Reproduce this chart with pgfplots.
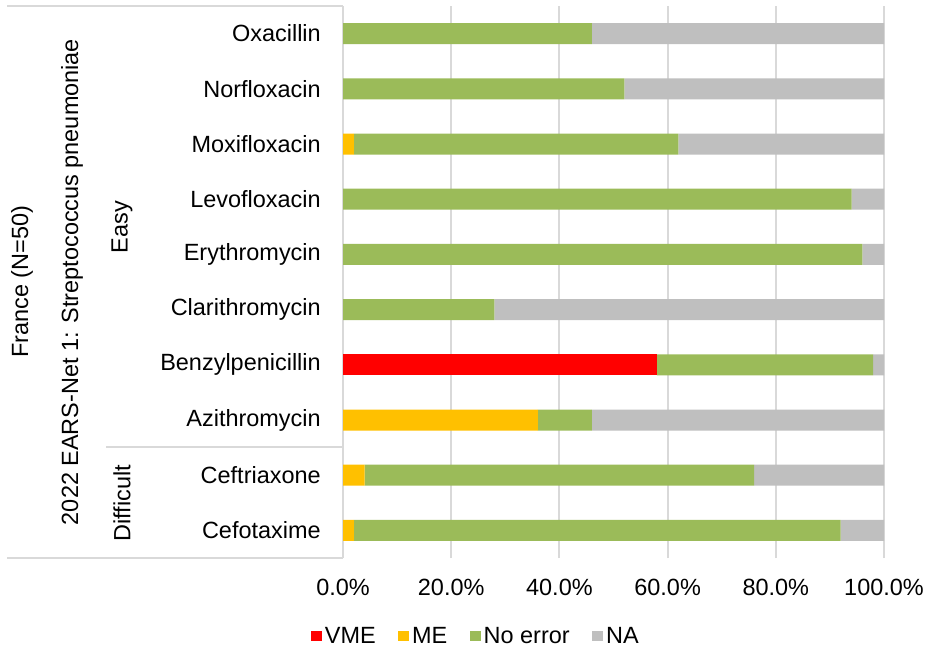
\documentclass[border=0pt]{standalone}
\usepackage{fontspec}
\setmainfont{Liberation Sans}
\usepackage{pgfplots}
\usepackage{pgfplotstable}
\pgfplotsset{compat=1.18}
\definecolor{cVME}{HTML}{FF0000}
\definecolor{cME}{HTML}{FFC000}
\definecolor{cOK}{HTML}{9BBB59}
\definecolor{cNA}{HTML}{BFBFBF}
\definecolor{cGrid}{HTML}{D9D9D9}
\pgfplotstableread{
y vme me ok na
0 0 2 90 8
1 0 4 72 24
2 0 36 10 54
3 58 0 40 2
4 0 0 28 72
5 0 0 96 4
6 0 0 94 6
7 0 2 60 38
8 0 0 52 48
9 0 0 46 54
}\data
\newcommand{\fs}{\fontsize{17.6pt}{21pt}\selectfont}
\begin{document}
\begin{tikzpicture}[x=0.75pt,y=-0.75pt]
\useasboundingbox (0,0) rectangle (930,654);
\begin{axis}[
  at={(257.25pt,-418.5pt)}, anchor=south west,
  scale only axis, width=405.75pt, height=414pt,
  xbar stacked, bar width=15.75pt,
  xmin=0, xmax=100, ymin=-0.5, ymax=9.5,
  ytick={0,...,9},
  yticklabels={Cefotaxime,Ceftriaxone,Azithromycin,Benzylpenicillin,Clarithromycin,Erythromycin,Levofloxacin,Moxifloxacin,Norfloxacin,Oxacillin},
  xtick={0,20,...,100},
  xticklabels={0.0\%,20.0\%,40.0\%,60.0\%,80.0\%,100.0\%},
  xmajorgrids, grid style={draw=cGrid, line width=1.5pt},
  axis line style={draw=none}, tick style={draw=none},
  yticklabel style={font=\fs, anchor=east, inner sep=0pt, xshift=-16.5pt},
  xticklabel style={font=\fs, anchor=north, inner sep=0pt, yshift=-15.5pt},
  legend style={at={(-0.0591,-0.1413)}, anchor=west, legend columns=-1, draw=none, inner sep=0pt, font=\fs,
    /tikz/every even column/.append style={column sep=15pt}},
  legend image code/.code={\fill[#1] (0pt,-4.1pt) rectangle (8.25pt,4.1pt);},
  every axis plot/.append style={draw=none},
]
\addplot[fill=cVME] table[x=vme,y=y]{\data};
\addplot[fill=cME] table[x=me,y=y]{\data};
\addplot[fill=cOK] table[x=ok,y=y]{\data};
\addplot[fill=cNA] table[x=na,y=y]{\data};
\legend{VME,ME,No error,NA}
\end{axis}
\draw[cGrid, line width=1.5pt] (7,6) -- (343,6);
\draw[cGrid, line width=1.5pt] (7,558) -- (343,558);
\draw[cGrid, line width=1.5pt] (106,447) -- (343,447);
\node[rotate=90, font=\fs] at (22,282) {France (N=50)};
\node[rotate=90, font=\fs] at (72,282) {2022 EARS-Net 1: Streptococcus pneumoniae};
\node[rotate=90, font=\fs] at (122,227) {Easy};
\node[rotate=90, font=\fs] at (122,503) {Difficult};
\end{tikzpicture}
\end{document}
